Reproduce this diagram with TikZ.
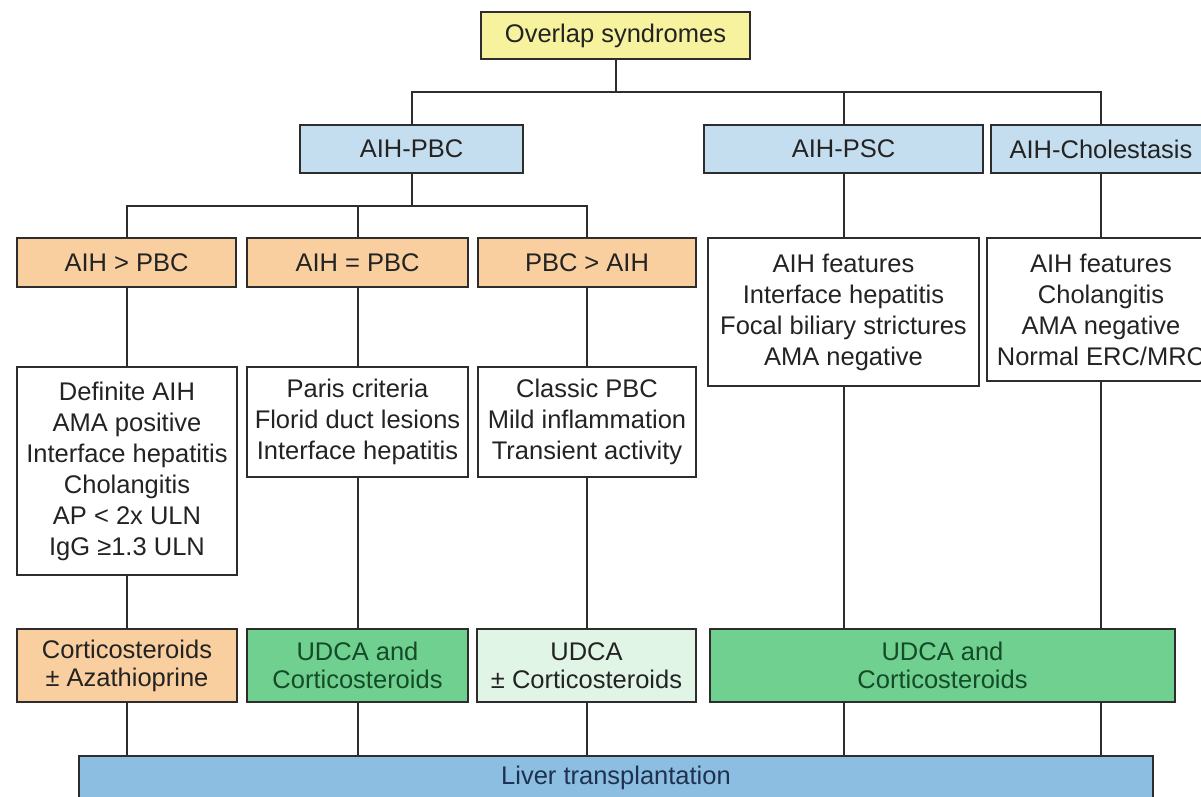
\documentclass[tikz,border=0pt]{standalone}
\usepackage{fontspec}
\setmainfont{Liberation Sans}
\definecolor{bordercol}{RGB}{45,45,45}
\definecolor{textcol}{RGB}{35,35,35}
\definecolor{yellowfill}{RGB}{247,242,158}
\definecolor{bluefill}{RGB}{196,222,240}
\definecolor{peachfill}{RGB}{250,207,160}
\definecolor{greenfill}{RGB}{112,208,144}
\definecolor{lightgreenfill}{RGB}{224,245,230}
\definecolor{liverfill}{RGB}{140,190,226}
\definecolor{greentext}{RGB}{20,75,40}
\definecolor{livertext}{RGB}{30,50,80}
\begin{document}
\begin{tikzpicture}[x=1pt,y=-1pt,
  box/.style={draw=bordercol, line width=2pt, inner sep=0pt, align=center,
    font=\fontsize{25.5}{31}\selectfont, text=textcol},
  twoline/.style={box, font=\fontsize{25.5}{28}\selectfont},
  conn/.style={draw=bordercol, line width=2pt}]
\useasboundingbox (0,0) rectangle (1201,797);
\fill[white] (0,0) rectangle (1201,797);
\clip (0,0) rectangle (1201,797);

% level 1
\node[box, fill=yellowfill, minimum width=269pt, minimum height=47pt] (top) at (615.5,35.5) {Overlap syndromes};

% level 2
\node[box, fill=bluefill, minimum width=223pt, minimum height=48pt] (pbc) at (411.5,149) {AIH-PBC};
\node[box, fill=bluefill, minimum width=279pt, minimum height=48pt] (psc) at (843.5,149) {AIH-PSC};
\node[box, fill=bluefill, minimum width=220pt, minimum height=48pt] (chol) at (1101,149) {AIH-Cholestasis};

% level 3
\node[box, fill=peachfill, minimum width=219pt, minimum height=49pt] (gt) at (126.5,262.5) {AIH > PBC};
\node[box, fill=peachfill, minimum width=221pt, minimum height=49pt] (eq) at (357.5,262.5) {AIH = PBC};
\node[box, fill=peachfill, minimum width=218pt, minimum height=49pt] (lt) at (587,262.5) {PBC > AIH};
\node[box, fill=white, minimum width=271pt, minimum height=148pt] (pscf) at (843.5,312)
  {AIH features\\Interface hepatitis\\Focal biliary strictures\\AMA negative};
\node[box, fill=white, minimum width=228pt, minimum height=143pt] (cholf) at (1101,309.5)
  {AIH features\\Cholangitis\\AMA negative\\Normal ERC/MRC};

% level 4
\node[box, fill=white, minimum width=220pt, minimum height=208pt] (def) at (127,471)
  {Definite AIH\\AMA positive\\Interface hepatitis\\Cholangitis\\AP < 2x ULN\\IgG ≥1.3 ULN};
\node[box, fill=white, minimum width=221pt, minimum height=110pt] (paris) at (357.5,422)
  {Paris criteria\\Florid duct lesions\\Interface hepatitis};
\node[box, fill=white, minimum width=218pt, minimum height=110pt] (classic) at (587,422)
  {Classic PBC\\Mild inflammation\\Transient activity};

% level 5
\node[twoline, fill=peachfill, minimum width=220pt, minimum height=73pt] (cort) at (127,665.5)
  {Corticosteroids\\± Azathioprine};
\node[twoline, fill=greenfill, text=greentext, minimum width=221pt, minimum height=73pt] (udcaa) at (357.5,665.5)
  {UDCA and\\Corticosteroids};
\node[twoline, fill=lightgreenfill, minimum width=219pt, minimum height=73pt] (udcab) at (586.5,665.5)
  {UDCA\\± Corticosteroids};
\node[twoline, fill=greenfill, text=greentext, minimum width=465pt, minimum height=73pt] (udcac) at (942.5,665.5)
  {UDCA and\\Corticosteroids};

% level 6
\node[box, fill=liverfill, text=livertext, minimum width=1074pt, minimum height=44pt] (liver) at (616,778)
  {Liver transplantation};

% bus levels
\coordinate (b1) at (0,92);
\coordinate (b2) at (0,206);

% connectors
\draw[conn] (top.south) -- (top.south |- b1);
\draw[conn] (pbc.north) -- (pbc.north |- b1) -- (chol.north |- b1) -- (chol.north);
\draw[conn] (psc.north) -- (psc.north |- b1);

\draw[conn] (pbc.south) -- (pbc.south |- b2);
\draw[conn] (gt.north) -- (gt.north |- b2) -- (lt.north |- b2) -- (lt.north);
\draw[conn] (eq.north) -- (eq.north |- b2);

\draw[conn] (psc.south) -- (psc.south |- pscf.north);
\draw[conn] (chol.south) -- (chol.south |- cholf.north);

\draw[conn] (gt.south) -- (gt.south |- def.north);
\draw[conn] (eq.south) -- (eq.south |- paris.north);
\draw[conn] (lt.south) -- (lt.south |- classic.north);

\draw[conn] (def.south) -- (def.south |- cort.north);
\draw[conn] (paris.south) -- (paris.south |- udcaa.north);
\draw[conn] (classic.south) -- (classic.south |- udcab.north);
\draw[conn] (pscf.south) -- (pscf.south |- udcac.north);
\draw[conn] (cholf.south) -- (cholf.south |- udcac.north);

\draw[conn] (cort.south) -- (cort.south |- liver.north);
\draw[conn] (udcaa.south) -- (udcaa.south |- liver.north);
\draw[conn] (udcab.south) -- (udcab.south |- liver.north);
\draw[conn] (udcac.south -| pscf.south) -- (pscf.south |- liver.north);
\draw[conn] (udcac.south -| cholf.south) -- (cholf.south |- liver.north);
\end{tikzpicture}
\end{document}
